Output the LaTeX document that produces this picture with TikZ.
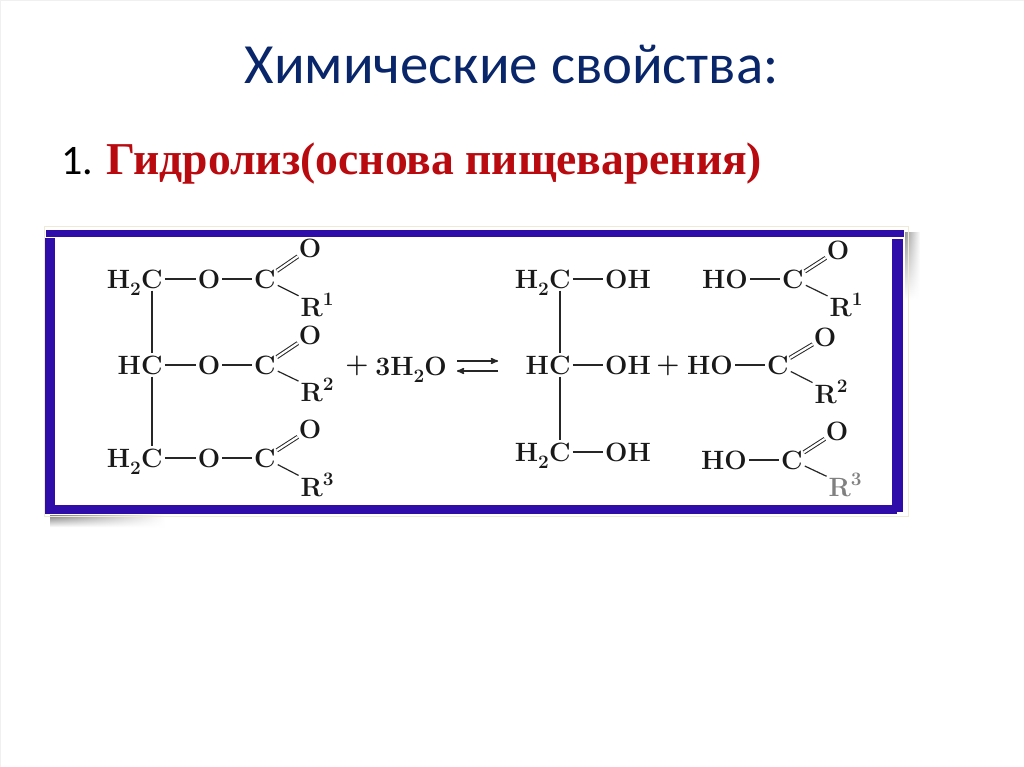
\documentclass[tikz,border=0pt]{standalone}
\usepackage{fontspec}
\setmainfont{Latin Modern Roman}
\newfontfamily\titlefont{Carlito}
\newfontfamily\serifbold{Liberation Serif}
\usetikzlibrary{arrows,positioning,fadings}
\definecolor{titleblue}{RGB}{8,38,105}
\definecolor{headred}{RGB}{185,10,15}
\definecolor{framecol}{RGB}{47,13,168}
\definecolor{framecream}{RGB}{238,234,214}
\newcommand{\lowidx}[1]{\raisebox{-.28em}{\fontsize{19}{19}\selectfont #1}}
\newcommand{\upidx}[1]{\raisebox{.42em}{\fontsize{19}{19}\selectfont #1}}

\begin{document}
\begin{tikzpicture}[x=1pt,y=-1pt,>=stealth',
  atom/.style={inner sep=0pt,font=\fontsize{26.5}{26.5}\selectfont\bfseries,text=black!90},
  bond/.style={line width=1.2pt,black!85,shorten >=2pt,shorten <=2pt},
  dbl/.style={line width=1pt,black!85,double,double distance=2.2pt,shorten >=1pt,shorten <=1pt}]

  \useasboundingbox (0,0) rectangle (1024,767);
  \fill[white] (0,0) rectangle (1024,767);
  \draw[black!6] (0,0) rectangle (1024,767);

  \node (title) at (511.5,84) [anchor=base,text=titleblue,font=\titlefont\fontsize{56.8}{56.8}\selectfont] {Химические свойства:};
  \node (num) at (61,175) [anchor=base west,inner sep=0pt,font=\titlefont\fontsize{42}{42}\selectfont,text=black] {1.};
  \node (head) [anchor=base west,inner sep=0pt,font=\serifbold\bfseries\fontsize{45.6}{45.6}\selectfont,text=headred] at (106,175) {Гидролиз(основа пищеварения)};

  % shadow and frame
  \shade[left color=black!50,right color=white,path fading=south] (50,515) rectangle (165,527);
  \shade[top color=black!40,bottom color=white,path fading=east] (905,233) rectangle (920,300);
  \draw[framecream,line width=1pt] (44,227) rectangle (908,516);
  \fill[white] (45,228) rectangle (905,514);
  \fill[framecol] (46,230) rectangle (904,237);
  \fill[framecol] (45,505) rectangle (897,514);
  \fill[framecol] (45,238) rectangle (55,511);
  \fill[framecol] (892,239) rectangle (903,512);

  % left side
  \node[atom] (c1) at (152,279) {C};
  \node[atom] (h1) [base left=0pt of c1] {H\lowidx{2}};
  \node[atom] (o1) at (209,279) {O};
  \node[atom] (k1) at (265,279) {C};
  \node[atom] (d1) at (310,248) {O};
  \node[atom] (r1) at (317,305) {R\upidx{1}};

  \node[atom] (c2) at (152,365) {C};
  \node[atom] (h2) [base left=0pt of c2] {H};
  \node[atom] (o2) at (209,365) {O};
  \node[atom] (k2) at (265,365) {C};
  \node[atom] (d2) at (310,335) {O};
  \node[atom] (r2) at (317,390) {R\upidx{2}};

  \node[atom] (c3) at (152,458) {C};
  \node[atom] (h3) [base left=0pt of c3] {H\lowidx{2}};
  \node[atom] (o3) at (209,458) {O};
  \node[atom] (k3) at (265,458) {C};
  \node[atom] (d3) at (310,429) {O};
  \node[atom] (r3) at (317,485) {R\upidx{3}};

  \node[atom] (plus1) at (357,366) {+};
  \node[atom] (water) at (411,370) {3H\lowidx{2}O};

  % arrows
  \coordinate (a1) at (457,361);
  \coordinate (b1) at (498,361);
  \coordinate (a2) at (498,371);
  \coordinate (b2) at (457,371);
  \draw[line width=1.5pt,black!85,->] (a1) -- (b1);
  \draw[line width=1.5pt,black!85,->] (a2) -- (b2);

  % right side
  \node[atom] (gc1) at (560,279) {C};
  \node[atom] (gh1) [base left=0pt of gc1] {H\lowidx{2}};
  \node[atom] (goh1) at (628,279) {OH};
  \node[atom] (gc2) at (560,365) {C};
  \node[atom] (gh2) [base left=0pt of gc2] {H};
  \node[atom] (goh2) at (628,365) {OH};
  \node[atom] (gc3) at (560,452) {C};
  \node[atom] (gh3) [base left=0pt of gc3] {H\lowidx{2}};
  \node[atom] (goh3) at (628,452) {OH};
  \node[atom] (plus2) at (668,366) {+};

  \node[atom] (ho1) at (725,279) {HO};
  \node[atom] (ak1) at (793,279) {C};
  \node[atom] (ad1) at (838,250) {O};
  \node[atom] (ar1) at (846,305) {R\upidx{1}};
  \node[atom] (ho2) at (710,365) {HO};
  \node[atom] (ak2) at (778,365) {C};
  \node[atom] (ad2) at (825,337) {O};
  \node[atom] (ar2) at (831,392) {R\upidx{2}};
  \node[atom] (ho3) at (724,460) {HO};
  \node[atom] (ak3) at (792,460) {C};
  \node[atom] (ad3) at (837,431) {O};
  \node[atom,text=black!50] (ar3) at (845,485) {R\upidx{3}};

  \path[bond]
    (c1) edge (c2)
    (c2) edge (c3)
    (c1) edge (o1)
    (o1) edge (k1)
    (k1) edge (r1)
    (c2) edge (o2)
    (o2) edge (k2)
    (k2) edge (r2)
    (c3) edge (o3)
    (o3) edge (k3)
    (k3) edge (r3)
    (gc1) edge (gc2)
    (gc2) edge (gc3)
    (gc1) edge (goh1)
    (gc2) edge (goh2)
    (gc3) edge (goh3)
    (ho1) edge (ak1)
    (ak1) edge (ar1)
    (ho2) edge (ak2)
    (ak2) edge (ar2)
    (ho3) edge (ak3)
    (ak3) edge (ar3);

  \foreach \from/\to in {k1/d1,k2/d2,k3/d3,ak1/ad1,ak2/ad2,ak3/ad3}
    \draw[dbl] (\from) -- (\to);
\end{tikzpicture}
\end{document}
